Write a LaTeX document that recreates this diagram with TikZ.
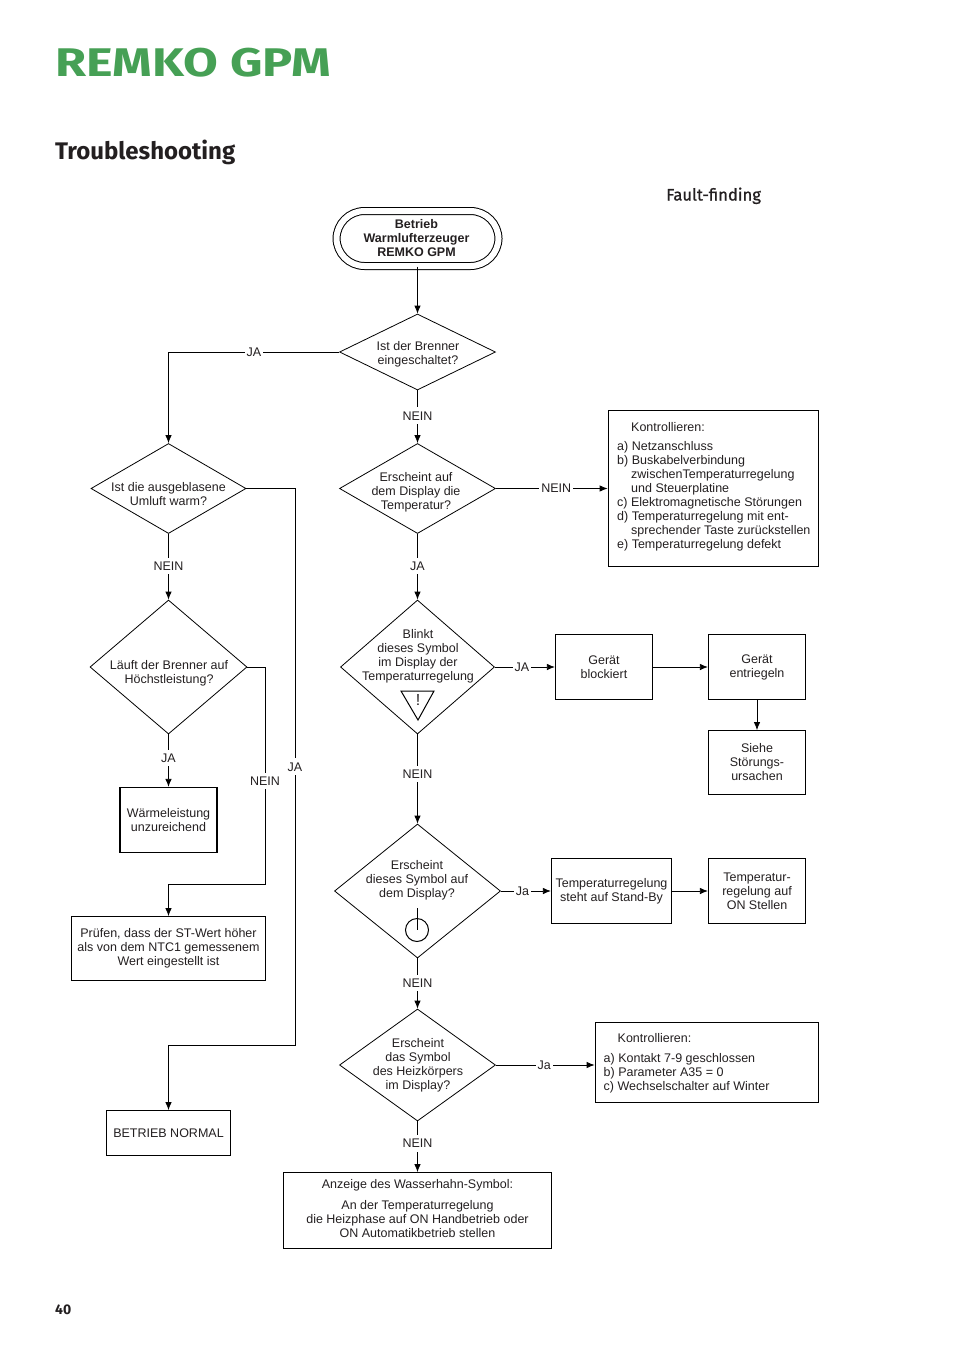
\documentclass[tikz,border=0pt]{standalone}
\usepackage{fontspec}
\setmainfont{Liberation Sans}
\newfontfamily\headfont{Fira Sans}
\usepackage{xcolor}
\usetikzlibrary{shapes.geometric,positioning,arrows.meta}
\definecolor{remkogreen}{RGB}{70,160,85}
\definecolor{printgray}{RGB}{35,31,32}
\tikzset{
	ask/.style={shape=diamond,draw,line width=0.8pt,inner sep=0pt},
	asktext/.style={align=center,inner sep=0pt,text=printgray,font=\fontsize{12.5}{14}\selectfont},
	act/.style={rectangle,draw,line width=0.8pt,inner sep=0pt,align=center,text=printgray,font=\fontsize{12.5}{14}\selectfont},
	heavy/.style={line width=1.2pt},
	lbl/.style={fill=white,inner xsep=2pt,inner ysep=4pt,text=printgray,font=\fontsize{12.5}{14}\selectfont},
	arr/.style={line width=0.8pt,-{Latex[length=8pt,width=6.5pt]}}
}
\begin{document}
\begin{tikzpicture}[x=1pt,y=-1pt]
	\useasboundingbox (0,0) rectangle (954,1350);
	\node[anchor=base west,inner sep=0pt,text=remkogreen,font=\headfont\bfseries\fontsize{40}{44}\selectfont\addfontfeature{FakeStretch=1.26}] (brand) at (55,76) {REMKO GPM};
	\node[anchor=base west,inner sep=0pt,text=printgray,font=\headfont\bfseries\fontsize{24}{28}\selectfont] (title) at (55,159) {Troubleshooting};
	\node[anchor=base west,inner sep=0pt,text=printgray,font=\headfont\fontsize{16.6}{20}\selectfont\addfontfeature{FakeBold=1}] (subtitle) at (666,200.5) {Fault-finding};
	\node[anchor=base west,inner sep=0pt,text=printgray,font=\headfont\bfseries\fontsize{14}{16}\selectfont] (page) at (55,1314) {40};

	\node[act,line width=1pt,double,double distance=6pt,rounded corners=28pt,minimum width=162,minimum height=55] (start) at (417.5,238.5) {};
	\node[asktext,font=\bfseries\fontsize{12.5}{14}\selectfont] (starttxt) at (416.5,238) {Betrieb\\Warmlufterzeuger\\REMKO GPM};

	\node[ask,minimum width=156,minimum height=76] (d1) at (417.5,352) {};
	\node[ask,minimum width=156,minimum height=90] (d2) at (417.5,488.5) {};
	\node[ask,minimum width=154,minimum height=134] (d3) at (417.5,667) {};
	\node[ask,minimum width=166,minimum height=134] (d4) at (417.5,891) {};
	\node[ask,minimum width=156,minimum height=112] (d5) at (417.5,1065) {};
	\node[ask,minimum width=155,minimum height=90] (l1) at (168.5,488.5) {};
	\node[ask,minimum width=157,minimum height=134] (l2) at (168.5,667) {};

	\node[asktext] (t1) at (418,354) {Ist der Brenner\\eingeschaltet?};
	\node[asktext] (t2) at (416,492) {Erscheint auf\\dem Display die\\Temperatur?};
	\node[asktext] (t3) at (418,656) {Blinkt\\dieses Symbol\\im Display der\\Temperaturregelung};
	\node[asktext] (t4) at (417,880) {Erscheint\\dieses Symbol auf\\dem Display?};
	\node[asktext] (t5) at (418,1065) {Erscheint\\das Symbol\\des Heizk\"orpers\\im Display?};
	\node[asktext] (t6) at (168.5,494) {Ist die ausgeblasene\\Umluft warm?};
	\node[asktext] (t7) at (169,673) {L\"auft der Brenner auf\\H\"ochstleistung?};

	% symbols in the diamonds
	\draw[line width=1pt] (401,691) -- (434,691) -- (418,720) -- cycle;
	\node[asktext,font=\fontsize{16}{16}\selectfont] (warn) at (418,700) {!};
	\draw[line width=1pt] (417,930) circle (11.5);
	\draw[line width=0.8pt] (417,908) -- (417,930);

	\node[act,minimum width=210,minimum height=156] (check1) at (713,488.5) {};
	\node[asktext,align=left,anchor=north west] (check1txt) at (617,422) {\hspace*{14pt}Kontrollieren:\\[5pt]
		a) Netzanschluss\\
		b) Buskabelverbindung\\
		\hspace*{14pt}zwischenTemperaturregelung\\
		\hspace*{14pt}und Steuerplatine\\
		c) Elektromagnetische St\"orungen\\
		d) Temperaturregelung mit ent-\\
		\hspace*{14pt}sprechender Taste zur\"uckstellen\\
		e) Temperaturregelung defekt};
	\node[act,heavy,minimum width=97,minimum height=65] (block) at (604,667) {Ger\"at\\blockiert};
	\node[act,heavy,minimum width=97,minimum height=65] (unlock) at (757,667) {Ger\"at\\entriegeln};
	\node[act,minimum width=97,minimum height=64] (cause) at (757,762.5) {Siehe\\St\"orungs-\\ursachen};
	\node[act,heavy,minimum width=120,minimum height=65] (standby) at (611.5,891) {Temperaturregelung\\steht auf Stand-By};
	\node[act,heavy,minimum width=97,minimum height=65] (onset) at (757,891) {Temperatur-\\regelung auf\\ON Stellen};
	\node[act,minimum width=223,minimum height=80] (check2) at (706.5,1062.5) {};
	\node[asktext,align=left,anchor=north west] (check2txt) at (603.5,1033) {\hspace*{14pt}Kontrollieren:\\[6pt]
		a) Kontakt 7-9 geschlossen\\
		b) Parameter A35 = 0\\
		c) Wechselschalter auf Winter};
	\node[act,heavy,minimum width=97,minimum height=65] (heat) at (168.5,820) {W\"armeleistung\\unzureichend};
	\node[act,minimum width=194,minimum height=64] (probe) at (168.5,948.5) {Pr\"ufen, dass der ST-Wert h\"oher\\als von dem NTC1 gemessenem\\Wert eingestellt ist};
	\node[act,minimum width=124,minimum height=45] (normal) at (168.5,1133) {BETRIEB NORMAL};
	\node[act,minimum width=268,minimum height=76] (tap) at (417.5,1210.5) {};
	\node[asktext] (taptxt) at (417.5,1209) {Anzeige des Wasserhahn-Symbol:\\[7pt]An der Temperaturregelung\\die Heizphase auf ON Handbetrieb oder\\ON Automatikbetrieb stellen};

	\coordinate (c1) at (295,1045);
	\coordinate (c2) at (265,884);

	\draw[arr] (start) -- (d1);
	\draw[arr] (d1.west) -| node[lbl,pos=.25] (ja1) {JA} (l1.north);
	\draw[arr] (d1.south) -- node[lbl,pos=.48] (nein1) {NEIN} (d2.north);
	\draw[arr] (d2.east) -- node[lbl,pos=.54] (nein2) {NEIN} (d2.east -| check1.west);
	\draw[arr] (d2.south) -- node[lbl,pos=.49] (ja2) {JA} (d3.north);
	\draw[arr] (d3.east) -- node[lbl,pos=.45] (ja3) {JA} (d3.east -| block.west);
	\draw[arr] (block) -- (unlock);
	\draw[arr] (unlock) -- (cause);
	\draw[arr] (d3.south) -- node[lbl,pos=.445] (nein3) {NEIN} (d4.north);
	\draw[arr] (d4.east) -- node[lbl,pos=.43] (ja4) {Ja} (d4.east -| standby.west);
	\draw[arr] (standby) -- (onset);
	\draw[arr] (d4.south) -- node[lbl,pos=.49] (nein4) {NEIN} (d5.north);
	\draw[arr] (d5.east) -- node[lbl,pos=.49] (ja5) {Ja} (d5.east -| check2.west);
	\draw[arr] (d5.south) -- node[lbl,pos=.43] (nein5) {NEIN} (tap.north);
	\draw[arr] (l1.south) -- node[lbl,pos=.49] (nein6) {NEIN} (l2.north);
	\draw[arr] (l2.south) -- node[lbl,pos=.45] (ja6) {JA} (heat.north);
	\draw[arr] (l1.east) -- (l1.east -| c1) -- node[lbl,pos=.5] (ja7) {JA} (c1) -| (normal.north);
	\draw[arr] (l2.east) -- (l2.east -| c2) -- node[lbl,pos=.525] (nein7) {NEIN} (c2) -| (probe.north);
\end{tikzpicture}
\end{document}
